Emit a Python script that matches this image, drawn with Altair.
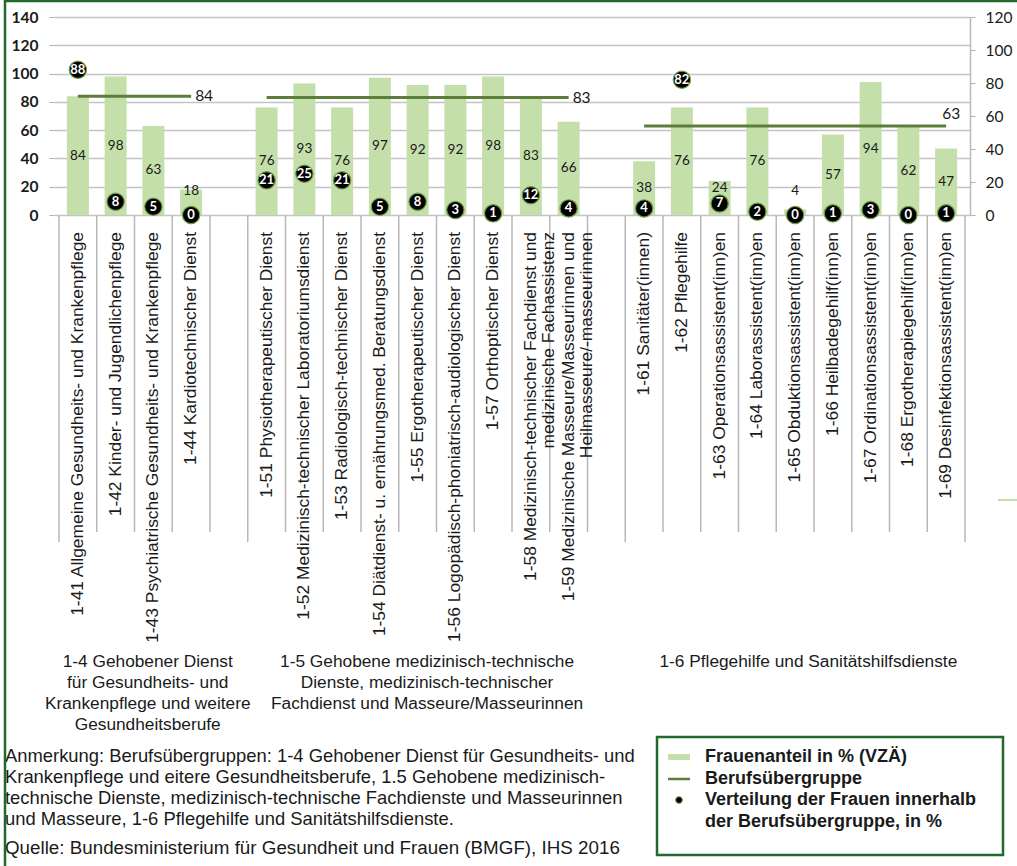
import altair as alt
import pandas as pd

categories = [
    "1-41 Allgemeine Gesundheits- und Krankenpflege",
    "1-42 Kinder- und Jugendlichenpflege",
    "1-43 Psychiatrische Gesundheits- und Krankenpflege",
    "1-44 Kardiotechnischer Dienst",
    "1-51 Physiotherapeutischer Dienst",
    "1-52 Medizinisch-technischer Laboratoriumsdienst",
    "1-53 Radiologisch-technischer Dienst",
    "1-54 Diätdienst- u. ernährungsmed. Beratungsdienst",
    "1-55 Ergotherapeutischer Dienst",
    "1-56 Logopädisch-phoniatrisch-audiologischer Dienst",
    "1-57 Orthoptischer Dienst",
    "1-58 Medizinisch-technischer Fachdienst und\nmedizinische  Fachassistenz",
    "1-59 Medizinische Masseure/Masseurinnen und\nHeilmasseure/-masseurinnen",
    "1-61  Sanitäter(innen)",
    "1-62 Pflegehilfe",
    "1-63 Operationsassistent(inn)en",
    "1-64 Laborassistent(inn)en",
    "1-65 Obduktionsassistent(inn)en",
    "1-66 Heilbadegehilf(inn)en",
    "1-67 Ordinationsassistent(inn)en",
    "1-68 Ergotherapiegehilf(inn)en",
    "1-69 Desinfektionsassistent(inn)en",
]
groups = ["1-4"] * 4 + ["1-5"] * 9 + ["1-6"] * 9
frauenanteil = [84, 98, 63, 18, 76, 93, 76, 97, 92, 92, 98, 83, 66,
                38, 76, 24, 76, 4, 57, 94, 62, 47]
verteilung = [88, 8, 5, 0, 21, 25, 21, 5, 8, 3, 1, 12, 4,
              4, 82, 7, 2, 0, 1, 3, 0, 1]

group_codes = ["1-4", "1-5", "1-6"]
group_names = [
    "1-4 Gehobener Dienst\nfür Gesundheits- und\nKrankenpflege und weitere\nGesundheitsberufe",
    "1-5 Gehobene medizinisch-technische\nDienste, medizinisch-technischer\nFachdienst und Masseure/Masseurinnen",
    "1-6 Pflegehilfe und Sanitätshilfsdienste",
]
group_avg = [84, 83, 63]

left_ticks = [0, 20, 40, 60, 80, 100, 120, 140]
right_ticks = [0, 20, 40, 60, 80, 100, 120]

note_text = ("Anmerkung: Berufsübergruppen: 1-4 Gehobener Dienst für Gesundheits- und\n"
             "Krankenpflege und eitere Gesundheitsberufe, 1.5 Gehobene medizinisch-\n"
             "technische Dienste, medizinisch-technische Fachdienste und Masseurinnen\n"
             "und Masseure, 1-6 Pflegehilfe und Sanitätshilfsdienste.")
source_text = "Quelle: Bundesministerium für Gesundheit und Frauen (BMGF), IHS 2016"
legend_labels = ["Frauenanteil in % (VZÄ)", "Berufsübergruppe",
                 "Verteilung der Frauen innerhalb\nder Berufsübergruppe, in %"]

# ---- derived tables (slot layout of categories) ----
rows, grp_rows, edge_rows = [], [], []
slot = 0
for gi, code in enumerate(group_codes):
    idx = [i for i, g in enumerate(groups) if g == code]
    start = slot
    edge_rows.append({"e": slot, "long": 1})
    for k, i in enumerate(idx):
        if k > 0:
            edge_rows.append({"e": slot, "long": 0})
        v = frauenanteil[i]
        rows.append({
            "cat": categories[i], "pos": slot + 0.5, "v": v,
            "w": verteilung[i],
            "ly": v / 2 if v >= 30 else max(v * 0.8, 17),
        })
        slot += 1
    last_center = slot - 0.5
    if gi < len(group_codes) - 1:
        edge_rows.append({"e": slot, "long": 0})
        slot += 1
    grp_rows.append({"x1": start + 0.5, "x2": last_center, "avg": group_avg[gi],
                     "lbl": str(group_avg[gi]), "name": group_names[gi],
                     "center": (start + slot) / 2 - (0.15 if gi == 0 else 0.25 if gi == 1 else -0.35),
                     "last": gi == len(group_codes) - 1})
edge_rows.append({"e": slot, "long": 1})
nslots = slot

df = pd.DataFrame(rows)
gdf = pd.DataFrame(grp_rows)
edf = pd.DataFrame(edge_rows)

BAR = "#c4dfa9"
LINE = "#5d7d3b"
FRAME = "#1f6a2c"
TXT = "#1a1a1a"
SANS = "Liberation Sans"
NUM = "Lato"

xs = alt.Scale(domain=[0, nslots], nice=False, zero=False)
ys_left = alt.Scale(domain=[0, 140], nice=False)
ys_right = alt.Scale(domain=[0, 120], nice=False)

left_axis = alt.Axis(
    orient="left", values=left_ticks, title=None, domain=False,
    labelOverlap=False, labelBound=False, labelFlush=False,
    grid=True, gridColor="#c4c4c4", gridWidth=1.5,
    tickColor="#b0b0b0", tickSize=5, labelPadding=11,
    labelFont=NUM, labelFontWeight="bold", labelFontSize=15.5, labelColor=TXT)
right_axis = alt.Axis(
    orient="right", values=right_ticks, title=None, grid=False,
    labelOverlap=False, labelBound=False, labelFlush=False,
    domain=True, domainColor="#b8b8b8", domainWidth=1.5,
    tickColor="#b0b0b0", tickSize=5, labelPadding=10,
    labelFont=NUM, labelFontSize=15.5, labelColor=TXT)

base = alt.Chart(df)

bars = base.mark_bar(size=22, color=BAR).encode(
    x=alt.X("pos:Q", scale=xs, axis=None),
    y=alt.Y("v:Q", scale=ys_left, axis=left_axis),
)
bar_text = base.mark_text(font=NUM, fontSize=13.5, color=TXT, baseline="middle").encode(
    x=alt.X("pos:Q", scale=xs, axis=None),
    y=alt.Y("ly:Q", scale=ys_left, axis=left_axis), text="v:Q")

glines = alt.Chart(gdf).mark_rule(color=LINE, strokeWidth=3).encode(
    x=alt.X("x1:Q", scale=xs, axis=None), x2="x2:Q",
    y=alt.Y("avg:Q", scale=ys_left, axis=left_axis))
glabels = alt.Chart(gdf).transform_filter("!datum.last").mark_text(
    font=NUM, fontSize=15.5, color=TXT, align="left", dx=4, baseline="middle").encode(
    x=alt.X("x2:Q", scale=xs, axis=None),
    y=alt.Y("avg:Q", scale=ys_left, axis=left_axis), text="lbl:N")
glabels_last = alt.Chart(gdf).transform_filter("datum.last").mark_text(
    font=NUM, fontSize=15.5, color=TXT, align="center", dx=5, dy=-12, baseline="middle").encode(
    x=alt.X("x2:Q", scale=xs, axis=None),
    y=alt.Y("avg:Q", scale=ys_left, axis=left_axis), text="lbl:N")

seps_short = alt.Chart(edf).transform_filter("datum.long == 0").mark_rule(
    color="#b8b8b8", strokeWidth=1.5).encode(
    x=alt.X("e:Q", scale=xs, axis=None), y=alt.value(198), y2=alt.value(515))
seps_long = alt.Chart(edf).transform_filter("datum.long == 1").mark_rule(
    color="#b8b8b8", strokeWidth=1.5).encode(
    x=alt.X("e:Q", scale=xs, axis=None), y=alt.value(198), y2=alt.value(525))

cat_labels = base.mark_text(
    angle=270, align="right", baseline="middle", lineBreak="\n", lineHeight=18,
    font=SANS, fontSize=17.4, color=TXT).encode(
    x=alt.X("pos:Q", scale=xs, axis=None), y=alt.value(215), text="cat:N")

grp_names = alt.Chart(gdf).mark_text(
    align="center", baseline="top", lineBreak="\n", lineHeight=21,
    font=SANS, fontSize=17.3, color=TXT).encode(
    x=alt.X("center:Q", scale=xs, axis=None), y=alt.value(636), text="name:N")

left_layer = alt.layer(bars, seps_short, seps_long, bar_text, glines, glabels,
                       glabels_last, cat_labels, grp_names)

circles = base.mark_circle(size=300, color="black", opacity=1,
                           stroke="#6f9c45", strokeWidth=1.2).encode(
    x=alt.X("pos:Q", scale=xs, axis=None),
    y=alt.Y("w:Q", scale=ys_right, axis=right_axis),
)
circle_text = base.mark_text(font=NUM, fontWeight="bold", fontSize=13,
                             color="white", baseline="middle").encode(
    x=alt.X("pos:Q", scale=xs, axis=None),
    y=alt.Y("w:Q", scale=ys_right, axis=right_axis), text="w:Q")

right_layer = alt.layer(circles, circle_text)

# ---- notes, legend box, frame ----
one = pd.DataFrame({"note": [note_text], "src": [source_text]})
note = alt.Chart(one).mark_text(
    align="left", baseline="top", lineBreak="\n", lineHeight=21,
    font=SANS, fontSize=18.4, color=TXT).encode(
    x=alt.value(-49), y=alt.value(730), text="note:N")
src = alt.Chart(one).mark_text(
    align="left", baseline="middle", font=SANS, fontSize=18.8, color=TXT).encode(
    x=alt.value(-49), y=alt.value(831), text="src:N")

leg_box = alt.Chart(one).mark_rect(fill="white", stroke=FRAME, strokeWidth=2.5).encode(
    x=alt.value(603), x2=alt.value(949), y=alt.value(720), y2=alt.value(838))
leg_bar = alt.Chart(one).mark_rect(color=BAR).encode(
    x=alt.value(614), x2=alt.value(636), y=alt.value(737), y2=alt.value(743))
leg_line = alt.Chart(one).mark_rule(color=LINE, strokeWidth=2.5).encode(
    x=alt.value(614), x2=alt.value(636), y=alt.value(762))
leg_dot = alt.Chart(one).mark_circle(color="black", opacity=1, size=45,
                                     stroke="#6f9c45", strokeWidth=1).encode(
    x=alt.value(625), y=alt.value(783))
ldf = pd.DataFrame({"t": legend_labels, "yy": [740, 762, 783]})
leg_text = alt.Chart(ldf).mark_text(
    align="left", baseline="middle", lineBreak="\n", lineHeight=22,
    font=SANS, fontWeight="bold", fontSize=18, color=TXT).encode(
    x=alt.value(651), y=alt.Y("yy:Q", scale=None, axis=None), text="t:N")

frame_left = alt.Chart(one).mark_rule(color=FRAME, strokeWidth=2.5).encode(
    x=alt.value(-49), y=alt.value(-17), y2=alt.value(849))
frame_top = alt.Chart(one).mark_rule(color=FRAME, strokeWidth=2.5).encode(
    x=alt.value(-49), x2=alt.value(963), y=alt.value(-16))
stray = alt.Chart(one).mark_rule(color=BAR, strokeWidth=2).encode(
    x=alt.value(944), x2=alt.value(963), y=alt.value(483))

deco = alt.layer(note, src, leg_box, leg_bar, leg_line, leg_dot, leg_text,
                 frame_left, frame_top, stray)

chart = alt.layer(left_layer, right_layer, deco).resolve_scale(
    y="independent"
).properties(
    width=916, height=198,
    padding={"left": 54, "top": 17, "right": 47, "bottom": 651},
    autosize="none", background="white",
).configure_view(stroke=None)

chart.save("out.html", embed_options={"renderer": "svg", "actions": False})
